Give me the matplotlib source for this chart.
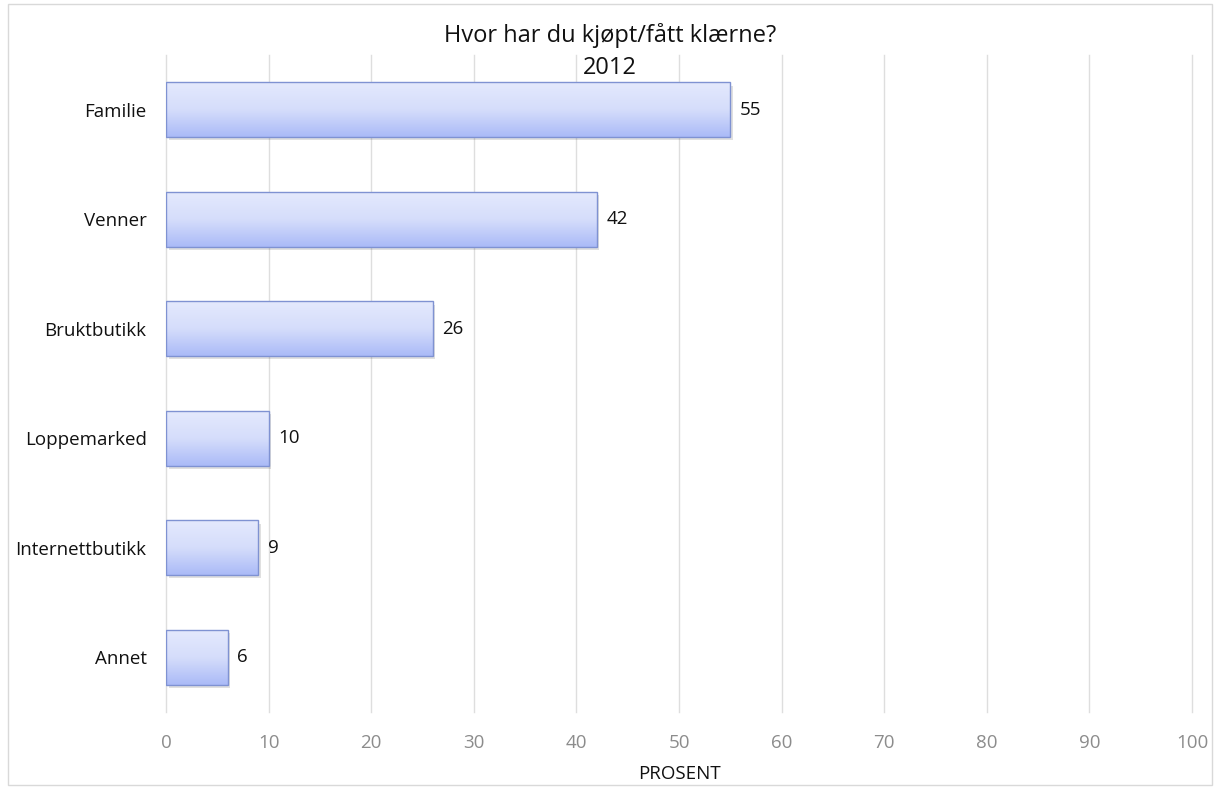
import numpy as np
import matplotlib
matplotlib.use("Agg")
import matplotlib.pyplot as plt
from matplotlib.patches import Rectangle
from matplotlib.colors import LinearSegmentedColormap

categories = ["Familie", "Venner", "Bruktbutikk", "Loppemarked", "Internettbutikk", "Annet"]
values = [55, 42, 26, 10, 9, 6]
xticks = [0, 10, 20, 30, 40, 50, 60, 70, 80, 90, 100]

plt.rcParams["font.family"] = ["Open Sans", "DejaVu Sans"]

fig = plt.figure(figsize=(12.2, 7.89), dpi=100)
ax = fig.add_axes([166 / 1220, 1 - 712 / 789, (1192 - 166) / 1220, (712 - 55) / 789])

# outer chart border
fig.patches.append(Rectangle((8 / 1220, 4 / 789), 1204 / 1220, 781 / 789,
                             transform=fig.transFigure, fill=False,
                             edgecolor="#d9d9d9", linewidth=1.0))

ax.set_xlim(0, 100)
ax.set_ylim(len(categories) - 0.5, -0.5)
ax.set_xticks(xticks)
ax.set_xticklabels([str(t) for t in xticks], color="#8c8c8c", fontsize=13.5)
ax.set_yticks(range(len(categories)))
ax.set_yticklabels(categories, fontsize=13.5, color="#111111")
ax.tick_params(axis="y", length=0, pad=14)
ax.tick_params(axis="x", length=0, pad=16)
for t in xticks:
    ax.axvline(t, color="#dedede", linewidth=1.0, zorder=0, clip_on=False)
for s in ax.spines.values():
    s.set_visible(False)

cmap = LinearSegmentedColormap.from_list("barfill", ["#e4e9fd", "#d5ddfb", "#aabaf7"])
grad = np.linspace(0, 1, 256).reshape(-1, 1)
h = 0.5
for i, v in enumerate(values):
    # soft drop shadow
    ax.add_patch(Rectangle((0.25, i - h / 2 + 0.03), v, h, facecolor="#000000",
                           alpha=0.12, edgecolor="none", zorder=2))
    rect = Rectangle((0, i - h / 2), v, h, facecolor="none",
                     edgecolor="#7f92d2", linewidth=1.0, zorder=4)
    ax.add_patch(rect)
    im = ax.imshow(grad, cmap=cmap, aspect="auto",
                   extent=(0, v, i + h / 2, i - h / 2), zorder=3)
    im.set_clip_path(rect)
    ax.text(v + 0.9, i, str(v), va="center", ha="left", fontsize=13.5,
            color="#111111", zorder=5)

ax.set_xlabel("PROSENT", fontsize=13.5, color="#111111", labelpad=9)

fig.text(0.5, 1 - 35 / 789, "Hvor har du kjøpt/fått klærne?", fontsize=17,
         ha="center", va="center", color="#111111")
fig.text(0.5, 1 - 68 / 789, "2012", fontsize=17, ha="center", va="center",
         color="#111111")

fig.savefig("out.png", dpi=100, facecolor="white")
